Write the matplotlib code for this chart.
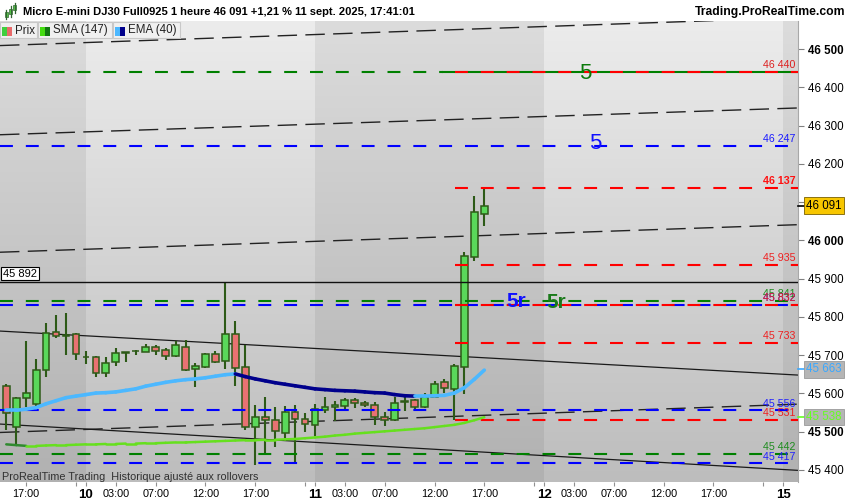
import numpy as np
import matplotlib.pyplot as plt
from matplotlib.patches import Rectangle
from matplotlib.lines import Line2D
from matplotlib.collections import LineCollection
from matplotlib.colors import LinearSegmentedColormap
from matplotlib.transforms import blended_transform_factory

plt.rcParams['font.family'] = ['Liberation Sans', 'DejaVu Sans']

# hourly bars, index 0 = 10 sept 00:00 (23 bars a day)
bar_idx = list(range(-8, 41))
opens = [45619, 45512, 45587, 45572, 45661, 45760, 45752, 45755,
         45695, 45695, 45653, 45681, 45705, 45710, 45708, 45721, 45713, 45697, 45721, 45663, 45668, 45702, 45684, 45755, 45668,
         45512, 45538, 45530, 45496, 45551, 45533, 45517, 45556, 45564, 45567, 45582, 45574, 45569, 45538, 45530, 45577, 45582,
         45564, 45590, 45629, 45611, 45668, 45956, 46070]
highs = [45624, 45590, 45736, 45689, 45783, 45804, 45809, 45757,
         45710, 45697, 45695, 45718, 45708, 45713, 45728, 45726, 45718, 45736, 45739, 45679, 45705, 45710, 45892, 45789, 45726,
         45569, 45590, 45564, 45567, 45569, 45548, 45572, 45590, 45580, 45587, 45587, 45580, 45577, 45551, 45590, 45598, 45585,
         45600, 45632, 45637, 45676, 45969, 46115, 46137]
lows = [45504, 45465, 45564, 45564, 45642, 45744, 45700, 45687,
        45676, 45642, 45642, 45671, 45681, 45700, 45708, 45700, 45687, 45695, 45658, 45616, 45666, 45679, 45663, 45619, 45504,
        45413, 45439, 45460, 45483, 45418, 45499, 45488, 45548, 45527, 45556, 45561, 45564, 45517, 45514, 45527, 45554, 45559,
        45561, 45590, 45600, 45531, 45598, 45945, 46037]
closes = [45549, 45588, 45600, 45661, 45757, 45749, 45750, 45702,
          45694, 45653, 45679, 45705, 45707, 45712, 45721, 45710, 45697, 45726, 45661, 45671, 45702, 45681, 45755, 45666, 45512,
          45538, 45530, 45501, 45551, 45533, 45520, 45559, 45564, 45569, 45582, 45574, 45569, 45538, 45530, 45574, 45579, 45564,
          45590, 45624, 45614, 45671, 45958, 46073, 46091]

sma147 = [45467, 45465, 45463, 45463, 45464, 45465, 45465, 45466,
          45467, 45467, 45468, 45468, 45469, 45469, 45470, 45470, 45471, 45472, 45472, 45473, 45474, 45475, 45476, 45477, 45478,
          45478, 45479, 45479, 45480, 45481, 45483, 45485, 45487, 45490, 45492, 45495, 45497, 45499, 45501, 45503, 45505, 45507,
          45509, 45512, 45515, 45518, 45523, 45530, 45538]
ema40 = [45556, 45556, 45559, 45563, 45573, 45581, 45589, 45593,
         45597, 45601, 45602, 45604, 45608, 45612, 45619, 45624, 45629, 45633, 45636, 45638, 45641, 45645, 45649, 45651,
         45644, 45638, 45633, 45628, 45624, 45620, 45616, 45612, 45610, 45608, 45607, 45606, 45604, 45602, 45601, 45597, 45594,
         45593, 45593, 45594, 45595, 45601, 45615, 45637, 45661]

# horizontal levels
green_levels = [46440, 45841, 45442]
blue_levels = [46247, 45832, 45556, 45417]
red_levels = [46137, 45935, 45832, 45733, 45531]
red_start = 37.05
green_top_solid_from = 35.85
high_line = 45892

# level labels at the right edge: (price, text, colour, bold)
level_labels = [(46440, '46 440', '#dd2020', False), (46247, '46 247', '#1a1aff', False),
                (46137, '46 137', '#ff1010', True), (45935, '45 935', '#ee2020', False),
                (45841, '45 841', '#1e8c1e', False), (45832, '45 832', '#2020ff', False),
                (45832, '45 832', '#ee2020', False), (45733, '45 733', '#ee2020', False),
                (45556, '45 556', '#2020ff', False), (45531, '45 531', '#ee2020', False),
                (45442, '45 442', '#1e8c1e', False), (45417, '45 417', '#2020ff', False)]

# channel lines: (x0, p0, x1, p1)
dashed_trends = [(-8.63, 46509, 71.5, 46582), (-8.63, 46276, 71.5, 46346),
                 (-8.63, 45969, 71.5, 46041), (-8.63, 45498, 71.5, 45572)]
solid_trends = [(-8.63, 45763, 71.5, 45648), (-8.63, 45520, 71.5, 45399)]

xtick_pos = [-6, 0, 3, 7, 12, 17, 23, 26, 30, 35, 40, 46, 49, 53, 58, 63, 70]
xtick_lbl = ['17:00', '10', '03:00', '07:00', '12:00', '17:00', '11', '03:00', '07:00',
             '12:00', '17:00', '12', '03:00', '07:00', '12:00', '17:00', '15']
day_labels = ['10', '11', '12', '15']
minor_pos = [-1, 22, 45, 68]
ytick_vals = list(range(45400, 46600, 100))
bold_yticks = [45500, 46000, 46500]

day_bounds = [-8.63, 0, 23, 46, 70, 71.5]
day_light = [False, True, False, True, False]

x_min, x_max = -8.63, 71.5
y_min, y_max = 45368.6, 46574

fig = plt.figure(figsize=(8.5, 5), dpi=100)
fig.patch.set_facecolor('white')
ax = fig.add_axes([0, 18 / 500, 798 / 850, 461.3 / 500])
ax.set_xlim(x_min, x_max)
ax.set_ylim(y_min, y_max)

# day shading
grad = np.linspace(0, 1, 200).reshape(-1, 1)
light_cm = LinearSegmentedColormap.from_list('light', ['#ececec', '#bdbdbd'])
dark_cm = LinearSegmentedColormap.from_list('dark', ['#dcdcdc', '#b1b1b1'])
for a, b, lt in zip(day_bounds[:-1], day_bounds[1:], day_light):
    ax.imshow(grad, extent=[a, b, y_min, y_max], aspect='auto', origin='upper',
              cmap=light_cm if lt else dark_cm, vmin=0, vmax=1, zorder=0)

# channels
for x0, p0, x1, p1 in dashed_trends:
    ax.plot([x0, x1], [p0, p1], color='#222222', lw=1.0, dashes=(14, 6), zorder=2)
for x0, p0, x1, p1 in solid_trends:
    ax.plot([x0, x1], [p0, p1], color='#1a1a1a', lw=0.9, zorder=2)

# candles
edge = '#2d5a17'
for i, o, h, l, c in zip(bar_idx, opens, highs, lows, closes):
    ax.plot([i, i], [l, h], color=edge, lw=1.5, solid_capstyle='butt', zorder=3)
    bot = min(o, c)
    ht = max(abs(c - o), 2.0)
    ax.add_patch(Rectangle((i - 0.34, bot), 0.68, ht, fc='#5ad85a' if c >= o else '#e87272',
                           ec=edge, lw=1.1, zorder=3.1))

# levels
ax.axhline(high_line, color='#111111', lw=1.0, zorder=4)
for lv in blue_levels:
    ax.plot([x_min, x_max], [lv, lv], color='#0000ff', lw=1.5, dashes=(6.2, 6.2), zorder=4)
for lv in green_levels:
    if lv == 46440:
        ax.plot([x_min, green_top_solid_from], [lv, lv], color='#008000', lw=1.5, dashes=(6.2, 6.2), zorder=4)
        ax.plot([green_top_solid_from, x_max], [lv, lv], color='#008000', lw=1.5, zorder=4)
    else:
        ax.plot([x_min, x_max], [lv, lv], color='#008000', lw=1.5, dashes=(6.2, 6.2), zorder=4)
for lv in red_levels + [46440]:
    ax.plot([red_start, x_max], [lv, lv], color='#ff0000', lw=1.5, dashes=(6.2, 6.2), zorder=4.1)

# moving averages, coloured by slope
def slope_line(ys, up_col, down_col, lw):
    pts = np.column_stack([bar_idx, ys])
    segs = np.stack([pts[:-1], pts[1:]], axis=1)
    cols = [up_col if b >= a else down_col for a, b in zip(ys[:-1], ys[1:])]
    ax.add_collection(LineCollection(segs, colors=cols, linewidths=lw, capstyle='round', zorder=5))

slope_line(sma147, '#66e01e', '#2f8a2f', 1.8)
slope_line(ema40, '#4cb8ff', '#00008c', 2.6)

# labels on the levels
bt = blended_transform_factory(ax.transAxes, ax.transData)
for p, t, col, b in level_labels:
    ax.annotate(t, xy=(0.9965, p), xycoords=bt, xytext=(0, 2.7), textcoords='offset points',
                ha='right', va='baseline', fontsize=7.7, color=col,
                fontweight='bold' if b else 'normal', zorder=6)

ax.text(50.1, 46421, '5', color='#0a7a0a', fontsize=16, ha='center', va='baseline', zorder=6)
ax.text(51.15, 46240, '5', color='#1010ff', fontsize=16, ha='center', va='baseline', zorder=6)
ax.text(42.2, 45827, '5r', color='#1010ff', fontsize=15, fontweight='bold', ha='left', va='baseline', zorder=6)
ax.text(46.2, 45823, '5r', color='#1a7a1a', fontsize=15, fontweight='bold', ha='left', va='baseline', zorder=6)

ax.annotate('45 892', xy=(0, high_line), xycoords=bt, xytext=(2.2, 2.2), textcoords='offset points',
            ha='left', va='bottom', fontsize=8, color='black', zorder=7,
            bbox=dict(boxstyle='square,pad=0.15', fc='white', ec='black', lw=0.8))

ax.text(0.003, 0.005, 'ProRealTime Trading  Historique ajusté aux rollovers', transform=ax.transAxes,
        fontsize=7.8, color='#303030', va='baseline', ha='left', zorder=7)

# axes styling
for s in ['left', 'top', 'bottom']:
    ax.spines[s].set_visible(False)
ax.spines['right'].set_color('#a8a8a8')
ax.yaxis.tick_right()
ax.set_yticks(ytick_vals)
ax.set_yticklabels(['{:,}'.format(v).replace(',', ' ') for v in ytick_vals])
ax.tick_params(axis='y', length=4, width=0.8, color='#808080', pad=3, labelsize=8.3)
for lab, v in zip(ax.get_yticklabels(), ytick_vals):
    if v in bold_yticks:
        lab.set_fontweight('bold')

ax.set_xticks(xtick_pos)
ax.set_xticklabels(xtick_lbl)
ax.set_xticks(minor_pos, minor=True)
ax.tick_params(axis='x', which='both', length=3, width=0.8, color='#909090', pad=2, labelsize=7.8)
for lab in ax.get_xticklabels():
    if lab.get_text() in day_labels:
        lab.set_fontweight('bold')
        lab.set_fontsize(9.5)

# price boxes on the axis
for p, t, fc, tc, ec in [(46091, '46 091', '#f7c600', 'black', '#7a6000'),
                         (45663, '45 663', '#b5b5b5', '#3aa8ff', '#9a9a9a'),
                         (45538, '45 538', '#b5b5b5', '#66ff22', '#9a9a9a')]:
    ax.plot([1.0, 1.0075], [p, p], color=tc, lw=1.2, transform=bt, clip_on=False, zorder=8)
    ax.annotate(t, xy=(1, p), xycoords=bt, xytext=(5.8, 0), textcoords='offset points',
                ha='left', va='center', fontsize=8.3, color=tc, zorder=9, annotation_clip=False,
                bbox=dict(boxstyle='square,pad=0.2', fc=fc, ec=ec, lw=0.6))

# header
def fx(px):
    return px / 850

def fy(py):
    return 1 - py / 500

fig.text(fx(23), fy(12), 'Micro E-mini DJ30 Full0925 1 heure 46 091 +1,21 % 11 sept. 2025, 17:41:01',
         fontsize=8, fontweight='bold', va='center', ha='left')
fig.text(fx(845), fy(12), 'Trading.ProRealTime.com', fontsize=8.7, fontweight='bold', va='center', ha='right')

icon = [(6, 12, 17, 10, 19), (10.5, 9, 14, 6, 17), (15, 5, 10, 3, 13)]
for cx, b0, b1, w0, w1 in icon:
    fig.add_artist(Line2D([fx(cx), fx(cx)], [fy(w0), fy(w1)], color='#336633', lw=0.9))
    fig.add_artist(Rectangle((fx(cx - 1.5), fy(b1)), 3 / 850, (b1 - b0) / 500, fc='#55cc44',
                             ec='#336633', lw=0.5, transform=fig.transFigure))

legend_boxes = [(0, 37, 'Prix', '#3fcf3f', '#e86a6a'),
                (37.5, 112, 'SMA (147)', '#44dd11', '#117711'),
                (112.5, 180, 'EMA (40)', '#4cb8ff', '#00008c')]
for x0, x1, lbl, c1, c2 in legend_boxes:
    fig.add_artist(Rectangle((fx(x0), fy(38.3)), (x1 - x0) / 850, 16.6 / 500, fc='#f0f0f0',
                             ec='#c8c8c8', lw=0.8, transform=fig.transFigure, zorder=10))
    fig.add_artist(Rectangle((fx(x0 + 2), fy(36)), 5 / 850, 9.3 / 500, fc=c1, ec='none',
                             transform=fig.transFigure, zorder=11))
    fig.add_artist(Rectangle((fx(x0 + 7), fy(36)), 5 / 850, 9.3 / 500, fc=c2, ec='none',
                             transform=fig.transFigure, zorder=11))
    fig.text(fx(x0 + 15.5), fy(30.5), lbl, fontsize=8.3, va='center', ha='left', color='#222222', zorder=12)

fig.savefig('out.png', dpi=100)
